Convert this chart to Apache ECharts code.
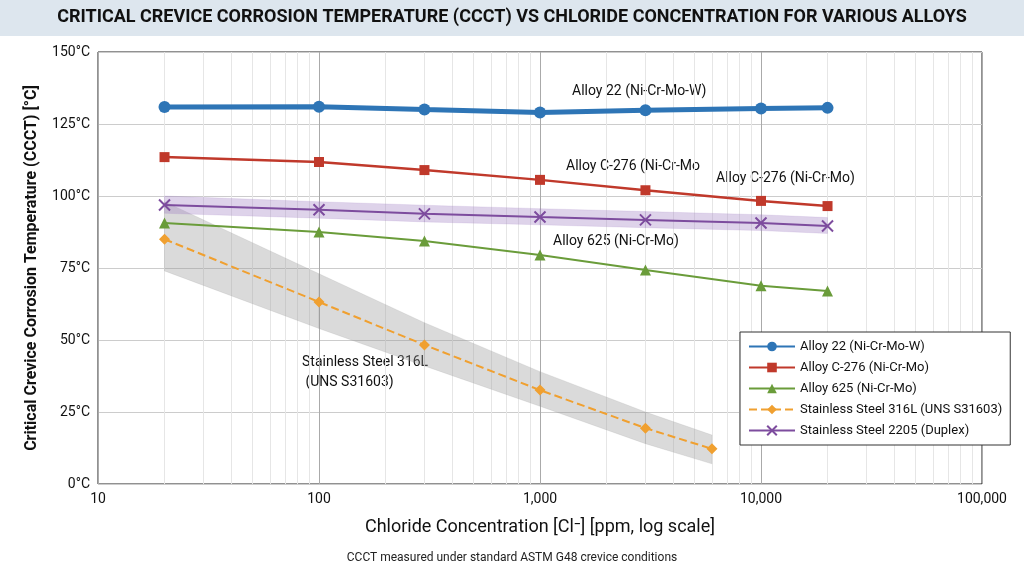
<!DOCTYPE html>
<html>
<head>
<meta charset="utf-8">
<script src="https://cdn.jsdelivr.net/npm/echarts@6/dist/echarts.min.js"></script>
<style>html,body{margin:0;padding:0;background:#fff}#c{width:1024px;height:572px}</style>
</head>
<body>
<div id="c"></div>
<script>
// chloride concentration, ppm
const ppm = [20, 100, 300, 1000, 3000, 10000, 20000]
const ppm316 = [20, 100, 300, 1000, 3000, 6000]

const alloy22 = [130.9, 131.0, 130.0, 129.0, 129.8, 130.4, 130.6]
const c276 = [113.5, 111.8, 109.0, 105.6, 102.0, 98.3, 96.5]
const a625 = [90.6, 87.5, 84.4, 79.5, 74.3, 68.8, 67.0]
const ss316 = [85.0, 63.2, 48.3, 32.6, 19.4, 12.2]
const ss2205 = [96.9, 95.2, 93.8, 92.7, 91.7, 90.6, 89.6]

// uncertainty bands (low / high)
const ss316Low = [74, 54, 41, 27, 14, 7]
const ss316High = [98, 73, 56, 39, 25, 17]
const ss2205Low = [94, 92.3, 91, 90, 89, 88, 87]
const ss2205High = [100, 98, 96.8, 95.6, 94.6, 93.5, 92.5]

const yTicks = [0, 25, 50, 75, 100, 125, 150]

const pairs = (xs, ys) => xs.map((x, i) => [x, ys[i]])

// band drawn as one polygon per segment between consecutive points
function band(name, xs, lo, hi, color) {
    const segs = []
    for (let i = 0; i < xs.length - 1; i++) {
        segs.push([xs[i], lo[i], hi[i], xs[i + 1], lo[i + 1], hi[i + 1]])
    }
    return {
        name: name, type: 'custom', data: segs, silent: true, z: 1,
        encode: {x: [0, 3], y: [1, 2, 4, 5]},
        renderItem: (params, api) => {
            const p = [
                api.coord([api.value(0), api.value(1)]),
                api.coord([api.value(3), api.value(4)]),
                api.coord([api.value(3), api.value(5)]),
                api.coord([api.value(0), api.value(2)])
            ]
            return {type: 'polygon', shape: {points: p}, style: {fill: color, stroke: color, lineWidth: 0.5}}
        }
    }
}

const chart = echarts.init(document.getElementById('c'))
chart.setOption({
    animation: false,
    textStyle: {fontFamily: 'Roboto'},
    graphic: [
        {type: 'rect', left: 0, top: 0, shape: {width: 1024, height: 36}, style: {fill: '#dde6ee'}, z: -1},
        {type: 'text', left: 'center', top: 8, style: {
            text: 'CRITICAL CREVICE CORROSION TEMPERATURE (CCCT) VS CHLORIDE CONCENTRATION FOR VARIOUS ALLOYS',
            font: 'bold 18px Roboto', fill: '#111'}},
        {type: 'text', left: 'center', top: 552, style: {
            text: 'CCCT measured under standard ASTM G48 crevice conditions', font: '12px Roboto', fill: '#222'}},
        {type: 'text', left: 572, top: 84, style: {text: 'Alloy 22 (Ni-Cr-Mo-W)', font: '14px Roboto', fill: '#111'}},
        {type: 'text', left: 566, top: 159, style: {text: 'Alloy C-276 (Ni-Cr-Mo', font: '14px Roboto', fill: '#111'}},
        {type: 'text', left: 716, top: 171, style: {text: 'Alloy C-276 (Ni-Cr-Mo)', font: '14px Roboto', fill: '#111'}},
        {type: 'text', left: 553, top: 234, style: {text: 'Alloy 625 (Ni-Cr-Mo)', font: '14px Roboto', fill: '#111'}},
        {type: 'text', left: 302, top: 352, style: {text: 'Stainless Steel 316L\n (UNS S31603)', font: '14px Roboto', fill: '#111', lineHeight: 20}}
    ],
    grid: {left: 98, right: 42, top: 52, bottom: 88, show: true, borderColor: '#222', borderWidth: 1},
    legend: {
        orient: 'vertical', left: 740, top: 332, itemGap: 8, itemWidth: 46, itemHeight: 12,
        backgroundColor: '#fff', borderColor: '#333', borderWidth: 1, padding: [8, 8, 8, 8],
        textStyle: {fontSize: 13, color: '#111'},
        data: ['Alloy 22 (Ni-Cr-Mo-W)', 'Alloy C-276 (Ni-Cr-Mo)', 'Alloy 625 (Ni-Cr-Mo)',
            'Stainless Steel 316L (UNS S31603)', 'Stainless Steel 2205 (Duplex)']
    },
    xAxis: {
        type: 'log', logBase: 10, min: 10, max: 100000,
        name: 'Chloride Concentration [Cl⁻] [ppm, log scale]', nameLocation: 'middle', nameGap: 34,
        nameTextStyle: {fontSize: 18, color: '#111'},
        axisLine: {show: false}, axisTick: {show: false},
        axisLabel: {fontSize: 14, color: '#111', formatter: v => v.toLocaleString('en-US')},
        splitLine: {lineStyle: {color: '#aaa'}},
        minorTick: {show: false, splitNumber: 9},
        minorSplitLine: {show: true, lineStyle: {color: '#e6e6e6'}}
    },
    yAxis: {
        type: 'value', min: 0, max: 150, interval: 25,
        name: 'Critical Crevice Corrosion Temperature (CCCT) [°C]', nameLocation: 'middle', nameGap: 58,
        nameTextStyle: {fontSize: 16, fontWeight: 'bold', color: '#111'},
        axisLine: {show: false}, axisTick: {show: false},
        axisLabel: {fontSize: 14, color: '#111', formatter: v => yTicks.includes(v) ? v + '°C' : ''},
        splitLine: {lineStyle: {color: '#ccc'}}
    },
    series: [
        band('b316', ppm316, ss316Low, ss316High, 'rgba(150,150,150,0.35)'),
        band('b2205', ppm, ss2205Low, ss2205High, 'rgba(160,130,195,0.35)'),
        {name: 'Alloy 22 (Ni-Cr-Mo-W)', type: 'line', data: pairs(ppm, alloy22), color: '#2e75b6',
            symbol: 'circle', symbolSize: 12, lineStyle: {width: 5}, z: 5},
        {name: 'Alloy C-276 (Ni-Cr-Mo)', type: 'line', data: pairs(ppm, c276), color: '#c0392b',
            symbol: 'rect', symbolSize: 10, lineStyle: {width: 2.5}, z: 4},
        {name: 'Alloy 625 (Ni-Cr-Mo)', type: 'line', data: pairs(ppm, a625), color: '#6a9c3a',
            symbol: 'triangle', symbolSize: 11, lineStyle: {width: 2}, z: 4},
        {name: 'Stainless Steel 316L (UNS S31603)', type: 'line', data: pairs(ppm316, ss316), color: '#f0a030',
            symbol: 'diamond', symbolSize: 11, lineStyle: {width: 2, type: 'dashed'}, z: 4},
        {name: 'Stainless Steel 2205 (Duplex)', type: 'line', data: pairs(ppm, ss2205), color: '#7d4c9e',
            symbol: 'path://M0,0L10,10M10,0L0,10', symbolSize: 11, itemStyle: {borderWidth: 2, borderColor: '#7d4c9e'},
            lineStyle: {width: 2}, z: 4}
    ]
})
</script>
</body>
</html>
